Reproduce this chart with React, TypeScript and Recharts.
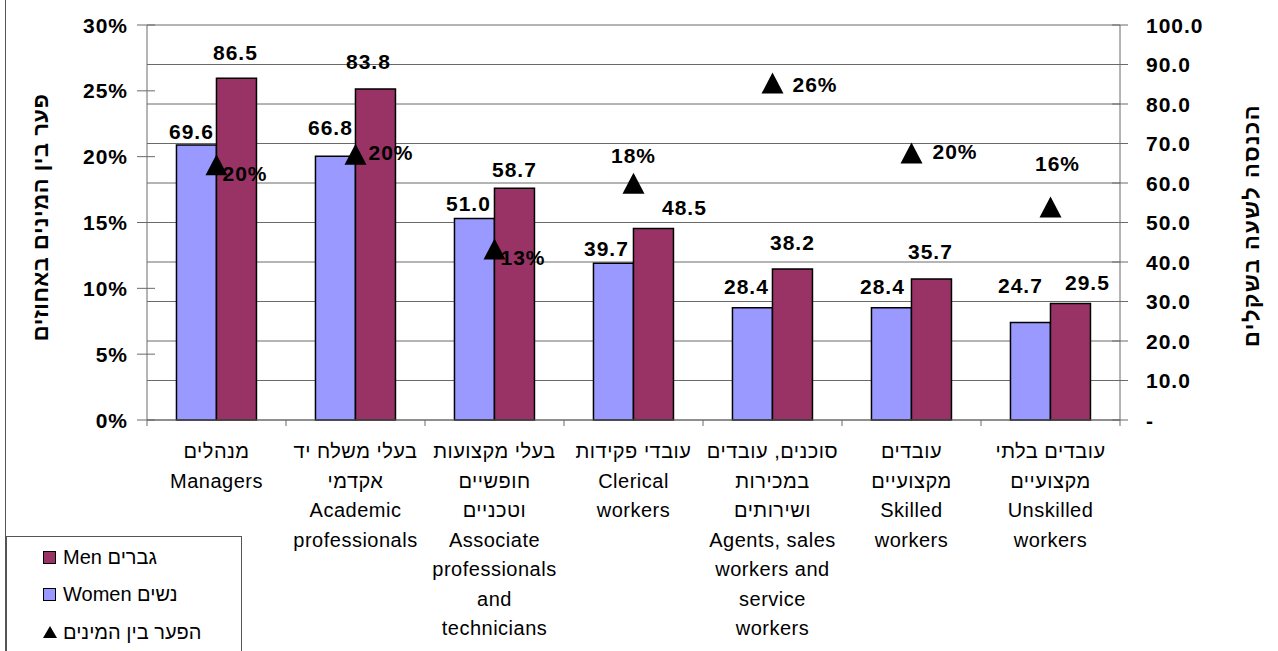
import React from "react";
import {
  ComposedChart, Bar, Scatter, XAxis, YAxis, CartesianGrid, LabelList, Legend,
} from "recharts";

// occupation groups (Hebrew lines first, then English)
const categories = ["managers", "academic", "associate", "clerical", "agents", "skilled", "unskilled"];
const categoryLines = [
  ["מנהלים", "Managers"],
  ["בעלי משלח יד", "אקדמי", "Academic", "professionals"],
  ["בעלי מקצועות", "חופשיים", "וטכניים", "Associate", "professionals", "and", "technicians"],
  ["עובדי פקידות", "Clerical", "workers"],
  ["סוכנים, עובדים", "במכירות", "ושירותים", "Agents, sales", "workers and", "service", "workers"],
  ["עובדים", "מקצועיים", "Skilled", "workers"],
  ["עובדים בלתי", "מקצועיים", "Unskilled", "workers"],
];

// hourly income (NIS)
const women = [69.6, 66.8, 51.0, 39.7, 28.4, 28.4, 24.7];
const men = [86.5, 83.8, 58.7, 48.5, 38.2, 35.7, 29.5];
// gender gap (%)
const gap = [19.5, 20.3, 13.1, 18.1, 25.7, 20.4, 16.3];

const leftTicks = [0, 5, 10, 15, 20, 25, 30];
const rightTicks = [0, 10, 20, 30, 40, 50, 60, 70, 80, 90, 100];

const legendItems = [
  { name: "Men גברים", kind: "men" },
  { name: "Women נשים", kind: "women" },
  { name: "הפער בין המינים", kind: "gap" },
];

const WOMEN_COLOR = "#9999FF";
const MEN_COLOR = "#993366";
const GRID = "#6a6a6a";
const FONT = "'Liberation Sans', Arial, sans-serif";
const NUM_STYLE = { fontFamily: FONT, fontSize: 21, fontWeight: "bold" as const, letterSpacing: 1 };

// manual label placement, as in the original sheet: [dx, dy] from default spot
const womenNudge = [[-5, 8], [-5, -7], [-6, 7], [-7, 7], [-6, 1], [-9, 1], [-10, -15]];
const menNudge = [[-1, -4], [-7, -6], [0, 3], [31, 1], [0, -5], [-1, -6], [17, 1]];
// gap labels: "r" = to the right of the marker, "t" = above it
const gapPlace: [string, number, number][] = [
  ["r", 6, 8], ["r", 13, -2], ["r", 6, 8], ["t", 0, -28], ["r", 20, 1], ["r", 21, -2], ["t", 7, -44],
];

const data = categories.map((c, i) => ({
  cat: c,
  women: women[i],
  men: men[i],
  gap: gap[i],
}));

const XTick = (props: any) => {
  const { x, y, payload } = props;
  const idx = categories.indexOf(payload.value);
  const half = payload.offset || 69.5;
  const lines = categoryLines[idx] || [];
  return (
    <g>
      <line x1={x - half} x2={x - half} y1={y} y2={y + 6} stroke={GRID} />
      {idx === categories.length - 1 && (
        <line x1={x + half} x2={x + half} y1={y} y2={y + 6} stroke={GRID} />
      )}
      {lines.map((l, k) => (
        <text key={k} x={x} y={y + 38 + k * 29.5} textAnchor="middle"
          fontFamily={FONT} fontSize={20} letterSpacing={0.5} fill="#000">{l}</text>
      ))}
    </g>
  );
};

const LeftTick = (props: any) => {
  const { x, y, payload } = props;
  return (
    <g>
      <line x1={x - 10} x2={x + 8} y1={y} y2={y} stroke={GRID} />
      <text x={x - 19} y={y} dy="0.36em" textAnchor="end" {...NUM_STYLE} fill="#000">
        {payload.value}%
      </text>
    </g>
  );
};

const RightTick = (props: any) => {
  const { x, y, payload } = props;
  const v = payload.value;
  return (
    <g>
      <line x1={x - 8} x2={x + 8} y1={y} y2={y} stroke={GRID} />
      <text x={x + 26} y={y} dy="0.36em" textAnchor="start" {...NUM_STYLE} fill="#000">
        {v === 0 ? "-" : v.toFixed(1)}
      </text>
    </g>
  );
};

const barLabel = (nudge: number[][]) => (props: any) => {
  const { x, y, width, value, index } = props;
  const [dx, dy] = nudge[index] || [0, 0];
  return (
    <text x={x + width / 2 + dx} y={y - 22 + dy} dy="0.36em" textAnchor="middle"
      {...NUM_STYLE} fill="#000">
      {Number(value).toFixed(1)}
    </text>
  );
};

const GapMarker = (props: any) => {
  const { cx, cy, payload } = props;
  const idx = categories.indexOf(payload.cat);
  const [mode, dx, dy] = gapPlace[idx] || ["r", 10, 0];
  return (
    <g>
      <polygon
        points={`${cx},${cy - 9} ${cx - 11},${cy + 12} ${cx + 11},${cy + 12}`}
        fill="#000"
      />
      <text x={cx + dx} y={cy + dy + 2} dy="0.36em"
        textAnchor={mode === "r" ? "start" : "middle"} {...NUM_STYLE} fill="#000">
        {Math.round(payload.gap)}%
      </text>
    </g>
  );
};

const LegendBox = () => (
  <div style={{
    width: 236, height: 120, border: "1px solid #555", borderBottom: "none",
    boxSizing: "border-box", background: "#fff", fontFamily: FONT, fontSize: 20,
    position: "relative",
  }}>
    {legendItems.map((it, i) => (
      <div key={it.name} style={{
        position: "absolute", left: 36, top: 8 + i * 37.5, height: 24,
        display: "flex", alignItems: "center", whiteSpace: "nowrap",
      }}>
        {it.kind === "gap" ? (
          <svg width={14} height={14} style={{ marginRight: 6 }}>
            <polygon points="7,1 0,13 14,13" fill="#000" />
          </svg>
        ) : (
          <span style={{
            display: "inline-block", width: 11, height: 11,
            border: "1.5px solid #000", marginRight: 7,
            background: it.kind === "men" ? MEN_COLOR : WOMEN_COLOR,
          }} />
        )}
        <span>{it.name}</span>
      </div>
    ))}
  </div>
);

export default function App() {
  return (
    <div style={{ position: "absolute", left: 0, top: 0, width: 1278, height: 651, background: "#fff", overflow: "hidden" }}>
      <div style={{ position: "absolute", left: 5, top: 0, width: 1, height: 651, background: "#555" }} />
      <ComposedChart
        width={1278}
        height={651}
        data={data}
        margin={{ top: 25, right: 0, bottom: 0, left: 0 }}
        barCategoryGap="21.2%"
        barGap={0}
      >
        <CartesianGrid yAxisId="right" vertical={false} stroke={GRID} ticks={rightTicks} />
        <XAxis
          dataKey="cat"
          height={231}
          interval={0}
          tickSize={0}
          tickMargin={0}
          tickLine={false}
          axisLine={{ stroke: GRID }}
          tick={<XTick />}
        />
        <YAxis
          yAxisId="left"
          orientation="left"
          width={147}
          domain={[0, 30]}
          ticks={leftTicks}
          interval={0}
          tickSize={0}
          tickMargin={0}
          tickLine={false}
          axisLine={{ stroke: GRID }}
          tick={<LeftTick />}
          label={{
            value: "פער בין המינים באחוזים", angle: -90, position: "insideLeft",
            dx: 35, dy: -5, style: { fontFamily: FONT, fontSize: 22, fontWeight: "bold", fill: "#000", textAnchor: "middle", letterSpacing: 0.5 },
          }}
        />
        <YAxis
          yAxisId="right"
          orientation="right"
          width={158}
          domain={[0, 100]}
          ticks={rightTicks}
          interval={0}
          tickSize={0}
          tickMargin={0}
          tickLine={false}
          axisLine={{ stroke: GRID }}
          tick={<RightTick />}
          label={{
            value: "הכנסה לשעה בשקלים", angle: -90, position: "insideRight",
            dx: -22, dy: 3, style: { fontFamily: FONT, fontSize: 22, fontWeight: "bold", fill: "#000", textAnchor: "middle", letterSpacing: 1.5 },
          }}
        />
        <Bar yAxisId="right" dataKey="women" fill={WOMEN_COLOR} stroke="#000" strokeWidth={1.5} isAnimationActive={false}>
          <LabelList dataKey="women" content={barLabel(womenNudge)} />
        </Bar>
        <Bar yAxisId="right" dataKey="men" fill={MEN_COLOR} stroke="#000" strokeWidth={1.5} isAnimationActive={false}>
          <LabelList dataKey="men" content={barLabel(menNudge)} />
        </Bar>
        <Scatter yAxisId="left" dataKey="gap" fill="#000" shape={<GapMarker />} isAnimationActive={false} />
        <Legend
          layout="vertical"
          align="center"
          verticalAlign="middle"
          content={<LegendBox />}
          wrapperStyle={{ position: "absolute", left: 6, top: 536, width: 236, height: 120 }}
        />
      </ComposedChart>
    </div>
  );
}
